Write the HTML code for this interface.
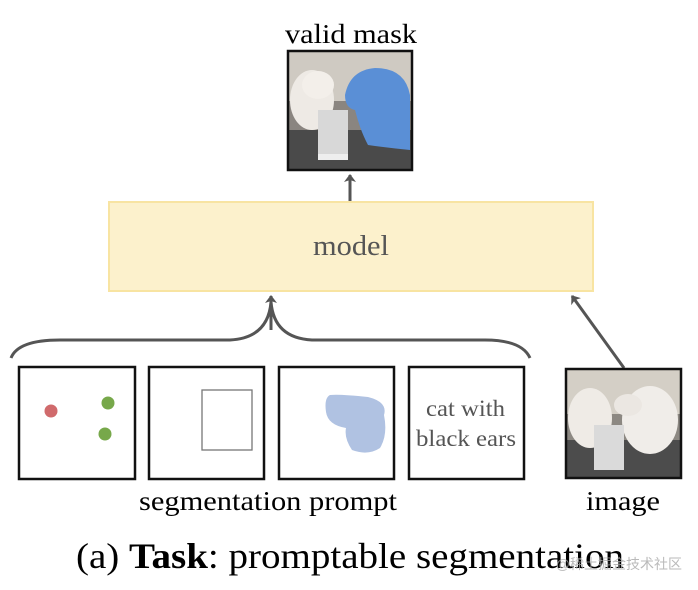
<!DOCTYPE html>
<html><head><meta charset="utf-8"><style>
html,body{margin:0;padding:0;background:#fff;width:698px;height:590px;overflow:hidden}
</style></head><body>
<svg width="698" height="590" viewBox="0 0 698 590" xmlns="http://www.w3.org/2000/svg" font-family="Liberation Serif, serif">
<defs>
<marker id="ah" markerWidth="12" markerHeight="12" refX="7" refY="6" orient="auto" markerUnits="userSpaceOnUse">
<path d="M0,0 L8,6 L0,12 L2,6Z" fill="#555"/>
</marker>
</defs>
<text x="285" y="43" font-size="27" textLength="132" lengthAdjust="spacingAndGlyphs" fill="#000">valid mask</text>
<g>
<rect x="288" y="51" width="124" height="119" fill="#8a8580"/>
<rect x="288" y="51" width="124" height="50" fill="#cfcac2"/>
<rect x="288" y="130" width="124" height="40" fill="#4a4a4a"/>
<ellipse cx="312" cy="100" rx="22" ry="30" fill="#eeeae5"/>
<ellipse cx="318" cy="85" rx="16" ry="14" fill="#f3efea"/>
<path d="M345,95 Q350,70 375,68 Q405,68 410,95 L410,150 Q390,148 368,145 Q360,130 355,110 Q345,108 345,95Z" fill="#5a8fd6"/>
<rect x="318" y="110" width="30" height="48" fill="#d8d8d8"/>
<rect x="318" y="154" width="30" height="6" fill="#eee"/>
<rect x="288" y="51" width="124" height="119" fill="none" stroke="#111" stroke-width="2.5"/>
</g>
<line x1="350" y1="201" x2="350" y2="175" stroke="#555" stroke-width="3" marker-end="url(#ah)"/>
<rect x="109" y="202" width="484" height="89" fill="#fcf1cc" stroke="#f8e4a2" stroke-width="2"/>
<text x="313" y="255" font-size="29" textLength="76" lengthAdjust="spacingAndGlyphs" fill="#555">model</text>
<path d="M11,358 Q18,340 60,340 L230,340 Q268,338 271,302 Q274,338 312,340 L485,340 Q522,340 530,358" fill="none" stroke="#555" stroke-width="3"/>
<line x1="271" y1="330" x2="271" y2="296" stroke="#555" stroke-width="3" marker-end="url(#ah)"/>
<line x1="624" y1="368" x2="572" y2="296" stroke="#555" stroke-width="3" marker-end="url(#ah)"/>
<g fill="none" stroke="#111" stroke-width="2.5">
<rect x="19" y="367" width="116" height="112"/>
<rect x="149" y="367" width="115" height="112"/>
<rect x="279" y="367" width="115" height="112"/>
<rect x="409" y="367" width="115" height="112"/>
</g>
<circle cx="51" cy="411" r="6.5" fill="#d06a6c"/>
<circle cx="108" cy="403" r="6.5" fill="#77a84a"/>
<circle cx="105" cy="434" r="6.5" fill="#77a84a"/>
<rect x="202" y="390" width="50" height="60" fill="none" stroke="#777" stroke-width="1.3"/>
<path d="M330,395 Q340,394 368,397 Q388,402 384,415 Q388,435 380,448 Q368,456 352,450 Q344,438 346,428 Q328,425 326,412 Q324,398 330,395Z" fill="#b0c2e2"/>
<text x="426" y="416" font-size="23" textLength="79" lengthAdjust="spacingAndGlyphs" fill="#555">cat with</text>
<text x="416" y="446" font-size="23" textLength="100" lengthAdjust="spacingAndGlyphs" fill="#555">black ears</text>
<g>
<rect x="566" y="369" width="115" height="109" fill="#8c8882"/>
<rect x="566" y="369" width="115" height="45" fill="#d4cfc6"/>
<rect x="566" y="440" width="115" height="38" fill="#4c4c4c"/>
<ellipse cx="590" cy="418" rx="22" ry="30" fill="#efebe6"/>
<ellipse cx="650" cy="420" rx="28" ry="34" fill="#f0ede9"/>
<ellipse cx="628" cy="405" rx="14" ry="11" fill="#ebe7e2"/>
<rect x="594" y="425" width="30" height="45" fill="#dadada"/>
<rect x="566" y="369" width="115" height="109" fill="none" stroke="#111" stroke-width="2.5"/>
</g>
<text x="139" y="510" font-size="27" textLength="258" lengthAdjust="spacingAndGlyphs" fill="#000">segmentation prompt</text>
<text x="586" y="510" font-size="27" textLength="74" lengthAdjust="spacingAndGlyphs" fill="#000">image</text>
<text x="76" y="568" font-size="36" textLength="548" lengthAdjust="spacingAndGlyphs" fill="#000">(a) <tspan font-weight="bold">Task</tspan>: promptable segmentation</text>
<text x="682" y="569" font-size="14" text-anchor="end" fill="#aaa" opacity="0.8" font-family="Liberation Sans, Noto Sans CJK SC, sans-serif">@稀土掘金技术社区</text>
</svg>
</body></html>
